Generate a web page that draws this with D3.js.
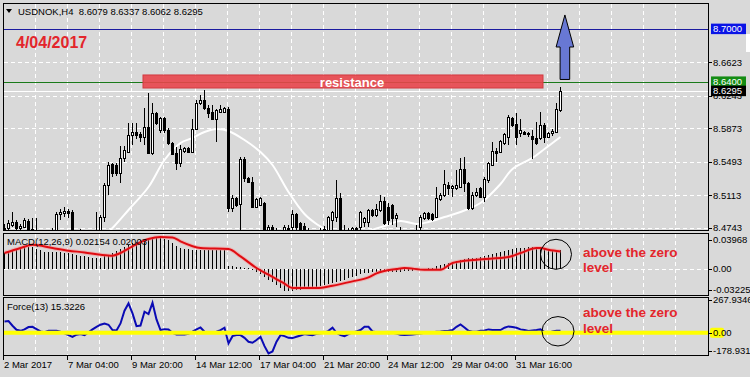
<!DOCTYPE html>
<html>
<head>
<meta charset="utf-8">
<script src="https://cdn.jsdelivr.net/npm/d3@7"></script>
<style>
  body { margin: 0; background: #d9d9d9; }
  svg { display: block; font-family: "Liberation Sans", Arial, sans-serif; }
</style>
</head>
<body>
<div id="chart"></div>
<script>
/*********************************
   DATA (USDNOK H4)
 *********************************/
const opens = [
  8.4740, 8.4740, 8.4774, 8.4808, 8.4740, 8.4752, 8.4820, 8.4729, 8.4694, 8.4660,
  8.4626, 8.4649, 8.4672, 8.4706, 8.4899, 8.4911, 8.4933, 8.4922, 8.4672, 8.4649,
  8.4672, 8.4649, 8.4672, 8.4649, 8.4694, 8.4865, 8.5229, 8.5467, 8.5456, 8.5365,
  8.5536, 8.5604, 8.5797, 8.5831, 8.5808, 8.5774, 8.5888, 8.5592, 8.6047, 8.5854,
  8.5990, 8.5854, 8.5706, 8.5592, 8.5479, 8.5615, 8.5649, 8.5604, 8.5865, 8.6161,
  8.6195, 8.6104, 8.6058, 8.5979, 8.6058, 8.6058, 8.6092, 8.4967, 8.5081, 8.5013,
  8.5524, 8.5308, 8.5263, 8.4979, 8.5001, 8.5024, 8.4694, 8.4752, 8.4683, 8.4649,
  8.4672, 8.4740, 8.4752, 8.4899, 8.4797, 8.4763, 8.4694, 8.4672, 8.4649, 8.4660,
  8.4694, 8.4694, 8.4831, 8.4865, 8.5081, 8.4683, 8.4694, 8.4706, 8.4740, 8.4752,
  8.4808, 8.4808, 8.4945, 8.4888, 8.4945, 8.5047, 8.4979, 8.5001, 8.4854, 8.4706,
  8.4672, 8.4649, 8.4660, 8.4694, 8.4752, 8.4854, 8.4911, 8.4899, 8.4865, 8.5070,
  8.5115, 8.5229, 8.5195, 8.5195, 8.5206, 8.5411, 8.5252, 8.4967, 8.5115, 8.5195,
  8.5092, 8.5286, 8.5456, 8.5615, 8.5604, 8.5706, 8.5774, 8.5990, 8.5922, 8.5820,
  8.5831, 8.5820, 8.5786, 8.5763, 8.5763, 8.5911, 8.5774, 8.5820, 8.5831, 8.6079
];
const highs = [
  8.4786, 8.4831, 8.4922, 8.4831, 8.4786, 8.4854, 8.4842, 8.4854, 8.4854, 8.4706,
  8.4683, 8.4717, 8.4740, 8.4922, 8.4956, 8.4979, 8.4956, 8.4945, 8.4694, 8.4729,
  8.4706, 8.4717, 8.4706, 8.4922, 8.4888, 8.5252, 8.5490, 8.5479, 8.5479, 8.5672,
  8.5672, 8.5933, 8.5933, 8.5933, 8.5831, 8.6104, 8.6274, 8.6161, 8.6058, 8.6001,
  8.6001, 8.5876, 8.5717, 8.5661, 8.5683, 8.5661, 8.5661, 8.5979, 8.6195, 8.6252,
  8.6308, 8.6138, 8.6138, 8.6092, 8.6138, 8.6115, 8.6115, 8.5115, 8.5092, 8.5547,
  8.5547, 8.5320, 8.5320, 8.5081, 8.5092, 8.5036, 8.4774, 8.4774, 8.4740, 8.4706,
  8.4774, 8.4774, 8.4945, 8.4911, 8.4808, 8.4797, 8.4740, 8.4706, 8.4694, 8.4740,
  8.4763, 8.4877, 8.4933, 8.5286, 8.5138, 8.4774, 8.4740, 8.4752, 8.4752, 8.4933,
  8.4865, 8.4956, 8.4956, 8.5013, 8.5115, 8.5092, 8.5024, 8.5013, 8.4911, 8.4752,
  8.4717, 8.4706, 8.4717, 8.4774, 8.4888, 8.4922, 8.4922, 8.4911, 8.5206, 8.5138,
  8.5399, 8.5263, 8.5229, 8.5399, 8.5536, 8.5547, 8.5263, 8.5149, 8.5195, 8.5206,
  8.5320, 8.5490, 8.5717, 8.5649, 8.5740, 8.5820, 8.6024, 8.6001, 8.6047, 8.5979,
  8.5842, 8.5831, 8.5854, 8.5945, 8.6058, 8.5933, 8.5831, 8.5865, 8.6161, 8.6337
];
const lows = [
  8.4649, 8.4706, 8.4752, 8.4706, 8.4694, 8.4740, 8.4672, 8.4626, 8.4604, 8.4581,
  8.4570, 8.4604, 8.4626, 8.4683, 8.4831, 8.4865, 8.4854, 8.4649, 8.4592, 8.4604,
  8.4604, 8.4615, 8.4626, 8.4604, 8.4672, 8.4808, 8.5115, 8.5320, 8.5331, 8.5252,
  8.5490, 8.5592, 8.5683, 8.5751, 8.5717, 8.5683, 8.5581, 8.5570, 8.5911, 8.5820,
  8.5820, 8.5683, 8.5570, 8.5399, 8.5433, 8.5592, 8.5592, 8.5592, 8.5854, 8.6138,
  8.6081, 8.5990, 8.5967, 8.5717, 8.6047, 8.6047, 8.4922, 8.4922, 8.4979, 8.4706,
  8.5263, 8.5252, 8.4967, 8.4967, 8.4990, 8.4660, 8.4672, 8.4660, 8.4604, 8.4604,
  8.4649, 8.4672, 8.4706, 8.4717, 8.4672, 8.4660, 8.4626, 8.4604, 8.4592, 8.4626,
  8.4672, 8.4672, 8.4717, 8.4808, 8.4660, 8.4638, 8.4626, 8.4683, 8.4672, 8.4717,
  8.4752, 8.4752, 8.4865, 8.4865, 8.4922, 8.4774, 8.4774, 8.4774, 8.4752, 8.4626,
  8.4604, 8.4604, 8.4626, 8.4672, 8.4717, 8.4831, 8.4831, 8.4820, 8.4854, 8.5047,
  8.5092, 8.5115, 8.5092, 8.5172, 8.5195, 8.5149, 8.4945, 8.4945, 8.5092, 8.5081,
  8.5036, 8.5252, 8.5445, 8.5490, 8.5592, 8.5683, 8.5683, 8.5888, 8.5683, 8.5774,
  8.5797, 8.5774, 8.5524, 8.5683, 8.5740, 8.5706, 8.5763, 8.5786, 8.5820, 8.6062
];
const closes = [
  8.4683, 8.4797, 8.4808, 8.4740, 8.4763, 8.4831, 8.4694, 8.4672, 8.4649, 8.4626,
  8.4649, 8.4694, 8.4706, 8.4899, 8.4922, 8.4933, 8.4911, 8.4683, 8.4626, 8.4683,
  8.4649, 8.4683, 8.4649, 8.4706, 8.4865, 8.5229, 8.5456, 8.5365, 8.5365, 8.5536,
  8.5626, 8.5797, 8.5831, 8.5797, 8.5774, 8.5888, 8.5592, 8.6047, 8.5933, 8.5990,
  8.5854, 8.5706, 8.5581, 8.5479, 8.5638, 8.5649, 8.5604, 8.5865, 8.6161, 8.6195,
  8.6104, 8.6047, 8.5979, 8.6081, 8.6092, 8.6104, 8.4967, 8.5081, 8.5001, 8.5524,
  8.5308, 8.5263, 8.4979, 8.5070, 8.5081, 8.4694, 8.4752, 8.4694, 8.4649, 8.4672,
  8.4752, 8.4717, 8.4899, 8.4752, 8.4706, 8.4694, 8.4672, 8.4649, 8.4660, 8.4683,
  8.4729, 8.4865, 8.4922, 8.5081, 8.4694, 8.4706, 8.4672, 8.4740, 8.4717, 8.4922,
  8.4854, 8.4945, 8.4888, 8.4956, 8.5047, 8.4797, 8.4831, 8.4854, 8.4888, 8.4672,
  8.4649, 8.4660, 8.4694, 8.4717, 8.4865, 8.4911, 8.4854, 8.4842, 8.5081, 8.5115,
  8.5240, 8.5195, 8.5217, 8.5229, 8.5411, 8.5252, 8.4967, 8.5115, 8.5149, 8.5092,
  8.5297, 8.5479, 8.5615, 8.5592, 8.5729, 8.5808, 8.6001, 8.5911, 8.5774, 8.5854,
  8.5808, 8.5808, 8.5751, 8.5706, 8.5911, 8.5774, 8.5820, 8.5842, 8.6092, 8.6295
];

// Moving Average (white line) - bar index / price
const maBars = [24, 27, 31, 36, 40, 44, 47, 50, 53, 56, 60, 64, 67, 71, 75, 78, 81, 84,
  88, 91, 95, 99, 103, 106, 110, 114, 119, 124, 127, 132, 135, 137, 139];
const maValues = [8.4604, 8.4740, 8.4945, 8.5206, 8.5513, 8.5706, 8.5763, 8.5831, 8.5865,
  8.5842, 8.5740, 8.5604, 8.5456, 8.5149, 8.4899, 8.4786, 8.4706, 8.4638, 8.4649, 8.4706,
  8.4763, 8.4820, 8.4786, 8.4808, 8.4865, 8.4922, 8.5024, 8.5240, 8.5411, 8.5536, 8.5638,
  8.5706, 8.5774];

// MACD(12,26,9) histogram, one value per bar
const macdMain = [
  0.0182, 0.0189, 0.0209, 0.0220, 0.0236, 0.0247, 0.0251, 0.0247, 0.0232, 0.0213,
  0.0197, 0.0189, 0.0189, 0.0189, 0.0189, 0.0186, 0.0182, 0.0174, 0.0162, 0.0151,
  0.0143, 0.0135, 0.0128, 0.0124, 0.0128, 0.0143, 0.0162, 0.0182, 0.0205, 0.0228,
  0.0251, 0.0275, 0.0298, 0.0313, 0.0329, 0.0344, 0.0356, 0.0360, 0.0363, 0.0360,
  0.0348, 0.0329, 0.0298, 0.0267, 0.0244, 0.0232, 0.0228, 0.0220, 0.0220, 0.0220,
  0.0220, 0.0220, 0.0217, 0.0213, 0.0213, 0.0213, 0.0035, 0.0027, 0.0019, 0.0019,
  0.0012, 0.0004, -0.0012, -0.0043, -0.0066, -0.0097, -0.0128, -0.0159, -0.0189, -0.0224,
  -0.0255, -0.0263, -0.0259, -0.0251, -0.0244, -0.0236, -0.0228, -0.0220, -0.0209, -0.0197,
  -0.0186, -0.0174, -0.0166, -0.0155, -0.0143, -0.0128, -0.0112, -0.0097, -0.0081, -0.0066,
  -0.0054, -0.0046, -0.0043, -0.0039, -0.0035, -0.0039, -0.0043, -0.0043, -0.0039, -0.0035,
  -0.0027, -0.0023, -0.0023, -0.0019, -0.0012, -0.0004, 0.0004, 0.0012, 0.0027, 0.0043,
  0.0054, 0.0066, 0.0077, 0.0089, 0.0101, 0.0112, 0.0120, 0.0120, 0.0128, 0.0135,
  0.0143, 0.0155, 0.0170, 0.0182, 0.0193, 0.0205, 0.0217, 0.0228, 0.0236, 0.0240,
  0.0244, 0.0247, 0.0247, 0.0244, 0.0236, 0.0228, 0.0220, 0.0217, 0.0213, 0.02154
];
// MACD signal (red line) - bar index / value
const signalBars = [0, 4, 7, 12, 16, 20, 24, 27, 29, 32, 36, 39, 42, 44, 49, 56, 59, 63, 66,
  70, 72, 78, 82, 87, 91, 93, 98, 100, 105, 109, 112, 118, 126, 129, 133, 134, 136, 139];
const signalValues = [0.0182, 0.0240, 0.0278, 0.0240, 0.0209, 0.0189, 0.0162, 0.0151, 0.0182,
  0.0259, 0.0344, 0.0367, 0.0363, 0.0317, 0.0240, 0.0228, 0.0143, 0.0008, -0.0070, -0.0174,
  -0.0224, -0.0224, -0.0197, -0.0147, -0.0101, -0.0054, -0.0004, 0.0008, -0.0012, -0.0012,
  0.0066, 0.0104, 0.0135, 0.0182, 0.0240, 0.0240, 0.0220, 0.02003];

// Force(13), one value per bar
const forceValues = [
  87, 90, 54, 23, 15, 26, 44, 46, 28, 10,
  5, 15, 15, 15, 8, -5, -18, -31, -15, -10,
  -18, 3, 26, 46, 62, 72, 62, 21, 18, 72,
  170, 226, 149, 51, 56, 162, 144, 231, 103, 21,
  28, 26, 0, -13, -13, -13, -8, 8, 26, 41,
  8, 5, 5, 8, 21, 39, -82, -26, -18, -18,
  -39, -69, -77, -56, -31, -103, -159, -144, -69, -18,
  -26, -39, -41, -31, -21, -10, -15, -18, -8, -3,
  0, 15, 39, 0, -18, -26, -10, 3, 10, 21,
  46, 46, 10, 5, 0, 0, -3, 0, -5, -15,
  -18, -15, -13, -10, -5, 0, 3, 5, 8, 10,
  13, 15, 21, 46, 64, 41, 15, 8, 8, 15,
  18, 26, 21, 21, 21, 39, 49, 44, 39, 26,
  21, 13, 18, 21, 26, 5, 0, 10, 15, 15.3226
];

// Axis labels
const timeLabels = ["2 Mar 2017", "7 Mar 04:00", "9 Mar 20:00", "14 Mar 12:00", "17 Mar 04:00",
  "21 Mar 20:00", "24 Mar 12:00", "29 Mar 04:00", "31 Mar 16:00"];
const timeBars = [0, 16, 32, 48, 64, 80, 96, 112, 128];
const priceTicks = [8.6623, 8.6243, 8.5873, 8.5493, 8.5113, 8.4743];
const macdTicks = [0.03968, 0.00, -0.03225];
const macdTickText = ["0.03968", "0.00", "-0.03225"];
const forceTicks = [267.9346, 0, -178.931];
const forceTickText = ["267.9346", "0.00", "-178.931"];

// Levels & annotations
const targetLevel = 8.7000, resistLevel = 8.6400, bidLevel = 8.6295;
const resistZone = { bar0: 34.75, bar1: 134.75, top: 8.6479, bottom: 8.6331 };
const arrowBar = 140.1, arrowTip = 8.7161, arrowHead = 8.6797, arrowBase = 8.6428;

/*********************************
   SETUP
 *********************************/
const W = 750, H = 377, L = 3, R = 709;
const red = "#e3262c";

const svg = d3.select("#chart").append("svg").attr("width", W).attr("height", H);
svg.append("rect").attr("width", W).attr("height", H).attr("fill", "#d9d9d9");

// 4px per bar
const x = d3.scaleLinear().domain([0, 1]).range([4, 8]);
const yMain = d3.scaleLinear().domain([8.7331, 8.4706]).range([0, 231]);
const yMacd = d3.scaleLinear().domain([0.03968, -0.03225]).range([234.5, 296.5]);
const yForce = d3.scaleLinear().domain([267.9346, -178.931]).range([298, 356]);

const panels = [
  { id: "clipMain", top: 3, bottom: 231 },
  { id: "clipMacd", top: 233, bottom: 296 },
  { id: "clipForce", top: 297, bottom: 356 }
];

const defs = svg.append("defs");
panels.forEach(p => {
  defs.append("clipPath").attr("id", p.id).append("rect")
    .attr("x", L + 1).attr("y", p.top + 1).attr("width", R - L - 1).attr("height", p.bottom - p.top - 2);
});

// Grid lines
const gridBars = d3.range(8, 177, 8).filter(b => x(b) - 1 < R - 2);
panels.forEach(p => {
  svg.append("g").selectAll("line").data(gridBars).join("line")
    .attr("x1", b => x(b) - 0.5).attr("x2", b => x(b) - 0.5)
    .attr("y1", p.top + 1).attr("y2", p.bottom - 1)
    .attr("stroke", "#fff").attr("stroke-dasharray", "4,3");
});
svg.append("g").selectAll("line").data(priceTicks).join("line")
  .attr("x1", L + 1).attr("x2", R)
  .attr("y1", d => Math.round(yMain(d)) + 0.5).attr("y2", d => Math.round(yMain(d)) + 0.5)
  .attr("stroke", "#fff").attr("stroke-dasharray", "4,3");
svg.append("line").attr("x1", L + 1).attr("x2", R)
  .attr("y1", Math.round(yMacd(0)) + 0.5).attr("y2", Math.round(yMacd(0)) + 0.5)
  .attr("stroke", "#fff").attr("stroke-dasharray", "4,3");

/*********************************
   MAIN PANEL
 *********************************/
const lvl = (v, color) => svg.append("line").attr("x1", L).attr("x2", R)
  .attr("y1", Math.round(yMain(v)) + 0.5).attr("y2", Math.round(yMain(v)) + 0.5)
  .attr("stroke", color).attr("stroke-width", 1);
lvl(targetLevel, "#1b1ba0");
lvl(resistLevel, "#1a7a1a");
lvl(bidLevel, "#ffffff");

// Resistance zone
svg.append("rect")
  .attr("x", x(resistZone.bar0)).attr("y", yMain(resistZone.top))
  .attr("width", x(resistZone.bar1) - x(resistZone.bar0))
  .attr("height", yMain(resistZone.bottom) - yMain(resistZone.top))
  .attr("fill", "#e8454b").attr("fill-opacity", 0.9)
  .attr("stroke", "#d23a40").attr("stroke-width", 1);
svg.append("text").text("resistance").attr("x", 352).attr("y", 86.5)
  .attr("text-anchor", "middle").attr("fill", "#fff")
  .attr("font-size", "13px").attr("font-weight", "bold");

// Candles
const bars = d3.range(opens.length);
const gC = svg.append("g").attr("clip-path", "url(#clipMain)");

// Moving average
gC.append("path")
  .datum(maBars.map((b, k) => [b, maValues[k]]))
  .attr("d", d3.line().x(d => x(d[0]) + 0.5).y(d => yMain(d[1])).curve(d3.curveCatmullRom))
  .attr("fill", "none").attr("stroke", "#fff").attr("stroke-width", 2);

gC.selectAll("line.wick").data(bars).join("line").attr("class", "wick")
  .attr("x1", i => x(i) + 0.5).attr("x2", i => x(i) + 0.5)
  .attr("y1", i => Math.round(yMain(highs[i]))).attr("y2", i => Math.round(yMain(lows[i])))
  .attr("stroke", "#000");

gC.selectAll("rect.body").data(bars).join("rect").attr("class", "body")
  .each(function (i) {
    const bull = closes[i] >= opens[i];
    const t = Math.round(yMain(Math.max(opens[i], closes[i])));
    const b = Math.round(yMain(Math.min(opens[i], closes[i])));
    const h = Math.max(b - t, 1);
    const r = d3.select(this);
    if (bull) r.attr("x", x(i) - 0.5).attr("y", t + 0.5).attr("width", 2).attr("height", h)
      .attr("fill", "#fff").attr("stroke", "#000");
    else r.attr("x", x(i) - 1).attr("y", t).attr("width", 3).attr("height", h + 1).attr("fill", "#000");
  });

// Up arrow
const ax = x(arrowBar) + 0.5, aT = yMain(arrowTip), aH = yMain(arrowHead), aB = yMain(arrowBase);
svg.append("path")
  .attr("d", `M${ax},${aT} L${ax + 8.8},${aH} L${ax + 4.8},${aH} L${ax + 4.8},${aB} L${ax - 4.8},${aB} L${ax - 4.8},${aH} L${ax - 8.8},${aH} Z`)
  .attr("fill", "#6878d4").attr("stroke", "#000").attr("stroke-width", 1);

// Header & date
svg.append("path").attr("d", "M6,9 L12,9 L9,13 Z").attr("fill", "#000");
svg.append("text").text("USDNOK,H4  8.6079 8.6337 8.6062 8.6295")
  .attr("x", 18).attr("y", 14.5).attr("font-size", "9.5px").attr("fill", "#000")
  .attr("xml:space", "preserve").style("white-space", "pre");
svg.append("text").text("4/04/2017").attr("x", 16).attr("y", 47.5)
  .attr("font-size", "16px").attr("font-weight", "bold").attr("fill", red);

/*********************************
   MACD PANEL
 *********************************/
const gM = svg.append("g").attr("clip-path", "url(#clipMacd)");
gM.selectAll("line").data(bars).join("line")
  .attr("x1", i => x(i) + 0.5).attr("x2", i => x(i) + 0.5)
  .attr("y1", Math.round(yMacd(0))).attr("y2", i => Math.round(yMacd(macdMain[i])))
  .attr("stroke", "#000");
const sigLine = d3.line().x(d => x(d[0]) + 0.5).y(d => yMacd(d[1])).curve(d3.curveMonotoneX);
const sigData = signalBars.map((b, k) => [b, signalValues[k]]);
gM.append("path").datum(sigData).attr("d", sigLine)
  .attr("fill", "none").attr("stroke", "#ff8a8a").attr("stroke-width", 4).attr("stroke-opacity", 0.45);
gM.append("path").datum(sigData).attr("d", sigLine)
  .attr("fill", "none").attr("stroke", "#e00c12").attr("stroke-width", 2);
svg.append("text").text("MACD(12,26,9) 0.02154 0.02003").attr("x", 7).attr("y", 245)
  .attr("font-size", "9.5px").attr("fill", "#000");

/*********************************
   FORCE PANEL
 *********************************/
const gF = svg.append("g").attr("clip-path", "url(#clipForce)");
gF.append("path").datum(bars)
  .attr("d", d3.line().x(i => x(i) + 0.5).y(i => yForce(forceValues[i])))
  .attr("fill", "none").attr("stroke", "#0a0ab4").attr("stroke-width", 2);
gF.append("line").attr("x1", L + 1).attr("x2", R)
  .attr("y1", yForce(0)).attr("y2", yForce(0))
  .attr("stroke", "#ffff00").attr("stroke-width", 4);
svg.append("text").text("Force(13) 15.3226").attr("x", 7).attr("y", 310)
  .attr("font-size", "9.5px").attr("fill", "#000");

// Circles & notes
svg.append("ellipse").attr("cx", x(138)).attr("cy", yMacd(0.0167)).attr("rx", 15.5).attr("ry", 15)
  .attr("fill", "none").attr("stroke", "#000");
svg.append("ellipse").attr("cx", x(138.5)).attr("cy", yForce(11.6)).attr("rx", 16).attr("ry", 14.7)
  .attr("fill", "none").attr("stroke", "#000");
[[256.5, 271.8], [316.5, 332.5]].forEach(([y1, y2]) => {
  svg.append("text").text("above the zero").attr("x", 583).attr("y", y1)
    .attr("font-size", "13.5px").attr("font-weight", "bold").attr("fill", red);
  svg.append("text").text("level").attr("x", 583).attr("y", y2)
    .attr("font-size", "13.5px").attr("font-weight", "bold").attr("fill", red);
});

/*********************************
   FRAMES & AXES
 *********************************/
panels.forEach(p => {
  svg.append("rect").attr("x", L + 0.5).attr("y", p.top + 0.5)
    .attr("width", R - L - 1).attr("height", p.bottom - p.top - 1)
    .attr("fill", "none").attr("stroke", "#000");
});

const axisLabel = (yPos, txt) => {
  svg.append("line").attr("x1", R - 1).attr("x2", R + 3)
    .attr("y1", Math.round(yPos) + 0.5).attr("y2", Math.round(yPos) + 0.5).attr("stroke", "#000");
  svg.append("text").text(txt).attr("x", 713).attr("y", yPos).attr("dy", "0.35em")
    .attr("font-size", "9.5px").attr("fill", "#000");
};
priceTicks.forEach(v => axisLabel(yMain(v), v.toFixed(4)));

// Coloured level tags
const tag = (v, fill, txt) => {
  svg.append("rect").attr("x", 711).attr("y", yMain(v) - 5.5).attr("width", 35).attr("height", 10.5)
    .attr("fill", fill);
  svg.append("text").text(txt).attr("x", 713).attr("y", yMain(v)).attr("dy", "0.35em")
    .attr("font-size", "9.5px").attr("fill", "#fff");
};
tag(targetLevel, "#0a14e6", "8.7000");
svg.append("rect").attr("x", 746).attr("y", 34).attr("width", 4).attr("height", 18).attr("fill", "#fff");
tag(resistLevel, "#148c14", "8.6400");
tag(bidLevel, "#000", "8.6295");

// MACD scale labels (max/min kept inside the panel)
axisLabel(yMacd(macdTicks[0]) + 5, macdTickText[0]);
axisLabel(yMacd(macdTicks[1]), macdTickText[1]);
axisLabel(yMacd(macdTicks[2]) - 6.5, macdTickText[2]);

// Force scale labels
svg.append("rect").attr("x", 710).attr("y", yForce(0) - 5).attr("width", 14).attr("height", 10)
  .attr("rx", 2).attr("fill", "#ffff00");
axisLabel(yForce(forceTicks[0]) + 2, forceTickText[0]);
axisLabel(yForce(forceTicks[1]), forceTickText[1]);
axisLabel(yForce(forceTicks[2]) - 5, forceTickText[2]);

// Time axis
timeBars.forEach((b, k) => {
  const tx = Math.max(x(b) - 1, L);
  svg.append("line").attr("x1", tx + 0.5).attr("x2", tx + 0.5).attr("y1", 356).attr("y2", 360)
    .attr("stroke", "#000");
  svg.append("text").text(timeLabels[k]).attr("x", tx + 1).attr("y", 368)
    .attr("font-size", "9.5px").attr("fill", "#000");
});
</script>
</body>
</html>
